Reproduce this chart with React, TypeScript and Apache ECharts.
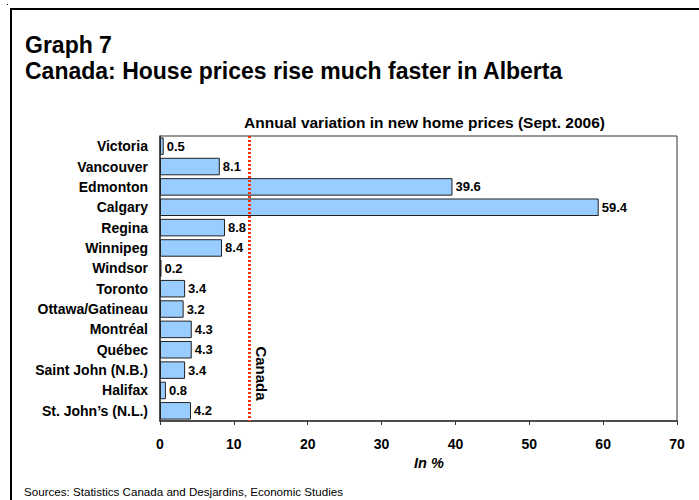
import React, { useEffect, useRef } from "react";
import * as echarts from "echarts";

const cities = [
  "Victoria",
  "Vancouver",
  "Edmonton",
  "Calgary",
  "Regina",
  "Winnipeg",
  "Windsor",
  "Toronto",
  "Ottawa/Gatineau",
  "Montréal",
  "Québec",
  "Saint John (N.B.)",
  "Halifax",
  "St. John’s (N.L.)",
];
const variation = [0.5, 8.1, 39.6, 59.4, 8.8, 8.4, 0.2, 3.4, 3.2, 4.3, 4.3, 3.4, 0.8, 4.2];
const canadaAverage = 12.1;
const xTicks = { min: 0, max: 70, interval: 10 };

const FONT = "Arial, 'Liberation Sans', sans-serif";

export default function App() {
  const ref = useRef<HTMLDivElement>(null);
  useEffect(() => {
    if (!ref.current) return;
    const chart = echarts.init(ref.current, null, { renderer: "svg" });
    chart.setOption({
      animation: false,
      backgroundColor: "#fff",
      textStyle: { fontFamily: FONT },
      grid: {
        left: 160,
        right: 22,
        top: 136,
        bottom: 79,
        show: true,
        borderColor: "#333",
        borderWidth: 1,
      },
      xAxis: {
        type: "value",
        min: xTicks.min,
        max: xTicks.max,
        interval: xTicks.interval,
        name: "In %",
        nameLocation: "middle",
        nameGap: 33,
        nameTextStyle: {
          fontFamily: FONT,
          fontSize: 14.5,
          fontWeight: "bold",
          fontStyle: "italic",
          color: "#000",
          padding: [0, 0, 0, 21],
        },
        axisLine: { show: true, lineStyle: { color: "#333", width: 1.5 } },
        axisTick: { show: true, length: 4, lineStyle: { color: "#333" } },
        axisLabel: {
          fontFamily: FONT,
          fontSize: 14,
          fontWeight: "bold",
          color: "#000",
          margin: 16,
        },
        splitLine: { show: false },
      },
      yAxis: {
        type: "category",
        data: cities,
        inverse: true,
        axisLine: { show: true, lineStyle: { color: "#333", width: 1.5 } },
        axisTick: { show: false },
        axisLabel: {
          fontFamily: FONT,
          fontSize: 14,
          fontWeight: "bold",
          color: "#000",
          margin: 12,
        },
      },
      series: [
        {
          type: "bar",
          data: variation,
          barCategoryGap: "14%",
          itemStyle: { color: "#99CCFF", borderColor: "#222", borderWidth: 1 },
          label: {
            show: true,
            position: "right",
            distance: 3,
            fontFamily: FONT,
            fontSize: 13,
            fontWeight: "bold",
            color: "#000",
          },
          markLine: {
            silent: true,
            symbol: "none",
            label: { show: false },
            lineStyle: { color: "#FF3300", type: [2, 2], width: 3 },
            data: [{ xAxis: canadaAverage }],
          },
        },
      ],
      graphic: [
        {
          type: "rect",
          shape: { x: 11, y: 9, width: 800, height: 600 },
          style: { fill: "none", stroke: "#000", lineWidth: 2 },
        },
        {
          type: "rect",
          shape: { x: 7, y: 4, width: 1, height: 1 },
          style: { fill: "#000" },
        },
        {
          type: "text",
          x: 25,
          y: 44.5,
          style: {
            text: "Graph 7",
            fontFamily: FONT,
            fontSize: 23,
            fontWeight: "bold",
            fill: "#000",
            verticalAlign: "middle",
          },
        },
        {
          type: "text",
          x: 25,
          y: 71,
          style: {
            text: "Canada: House prices rise much faster in Alberta",
            fontFamily: FONT,
            fontSize: 23,
            fontWeight: "bold",
            fill: "#000",
            verticalAlign: "middle",
          },
        },
        {
          type: "text",
          x: 424.5,
          y: 122.5,
          style: {
            text: "Annual variation in new home prices (Sept. 2006)",
            fontFamily: FONT,
            fontSize: 15.5,
            fontWeight: "bold",
            fill: "#000",
            align: "center",
            verticalAlign: "middle",
          },
        },
        {
          type: "text",
          x: 261,
          y: 373.5,
          rotation: -Math.PI / 2,
          style: {
            text: "Canada",
            fontFamily: FONT,
            fontSize: 15,
            fontWeight: "bold",
            fill: "#000",
            align: "center",
            verticalAlign: "middle",
          },
        },
        {
          type: "text",
          x: 24,
          y: 491,
          style: {
            text: "Sources: Statistics Canada and Desjardins, Economic Studies",
            fontFamily: FONT,
            fontSize: 11.6,
            fill: "#000",
            verticalAlign: "middle",
          },
        },
      ],
    });
    return () => chart.dispose();
  }, []);
  return (
    <div
      ref={ref}
      style={{ position: "fixed", left: 0, top: 0, width: 699, height: 500 }}
    />
  );
}
